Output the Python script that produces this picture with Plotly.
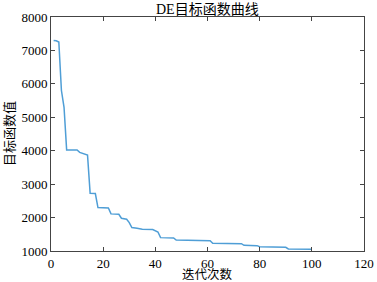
import plotly.graph_objects as go

iters = [1, 2, 3, 4, 5, 6, 7, 10, 11, 13, 14, 15, 17, 18, 22, 23, 26, 27, 28, 29, 30, 31,
         33, 35, 39, 40, 41, 42, 47, 48, 52, 61, 62, 73, 74, 79, 80, 90, 91, 100]
values = [7300, 7290, 7250, 5800, 5300, 4020, 4020, 4020, 3950, 3900, 3870, 2730, 2720, 2300,
          2290, 2110, 2100, 1980, 1970, 1950, 1850, 1700, 1680, 1650, 1640, 1600, 1570, 1400,
          1390, 1330, 1320, 1310, 1230, 1220, 1170, 1160, 1130, 1110, 1060, 1050]
x_ticks = [0, 20, 40, 60, 80, 100, 120]
y_ticks = [1000, 2000, 3000, 4000, 5000, 6000, 7000, 8000]

font_fam = "Liberation Serif, Noto Sans CJK SC, serif"
cjk_fam = "Noto Sans CJK SC, Liberation Serif, serif"

fig = go.Figure(go.Scatter(x=iters, y=values, mode="lines",
                           line=dict(color="#4f9ed6", width=1.5)))

axis_common = dict(showgrid=False, zeroline=False, showline=True, linecolor="#444444",
                   linewidth=1, mirror="ticks", ticks="inside", ticklen=4,
                   tickcolor="#444444", automargin=False,
                   tickfont=dict(family=font_fam, size=13, color="black"))

fig.update_layout(
    width=377, height=282,
    margin=dict(l=51, r=13, t=17, b=31),
    paper_bgcolor="white", plot_bgcolor="white",
    showlegend=False,
    xaxis=dict(range=[0, 120], tickvals=x_ticks, **axis_common),
    yaxis=dict(range=[1000, 8000], tickvals=y_ticks, **axis_common),
    annotations=[
        dict(text="DE目标函数曲线", xref="paper", yref="paper", x=0.5, y=1, yshift=8,
             xanchor="center", yanchor="middle", showarrow=False,
             font=dict(family=font_fam, size=14, color="black")),
        dict(text="迭代次数", xref="paper", yref="paper", x=0.5, y=0, yshift=-22,
             xanchor="center", yanchor="middle", showarrow=False,
             font=dict(family=cjk_fam, size=12.5, color="black")),
        dict(text="目标函数值", xref="paper", yref="paper", x=0, y=0.5, xshift=-43,
             xanchor="center", yanchor="middle", textangle=-90, showarrow=False,
             font=dict(family=cjk_fam, size=13, color="black")),
    ],
)

fig.write_html("out.html", config={"displayModeBar": False},
               post_script="document.body.style.margin='0';")
